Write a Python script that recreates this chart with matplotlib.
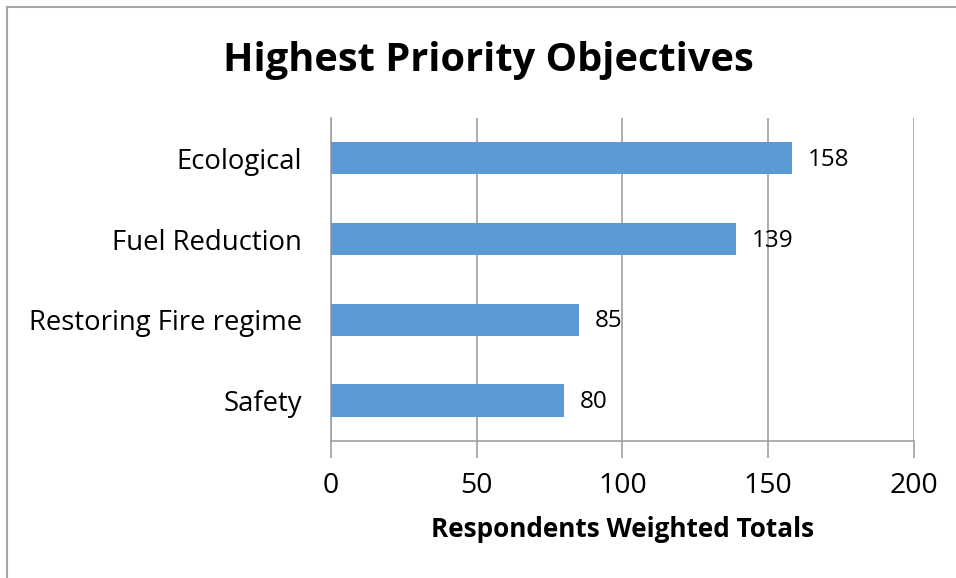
import numpy as np
import matplotlib.pyplot as plt
from matplotlib.lines import Line2D

plt.rcParams['font.family'] = ['Open Sans', 'DejaVu Sans']

categories = ["Ecological", "Fuel Reduction", "Restoring Fire regime", "Safety"]
totals = [158, 139, 85, 80]
x_ticks = [0, 50, 100, 150, 200]

grid_col = "#a0a0a0"
bar_col = "#5b9bd5"

fig = plt.figure(figsize=(9.56, 5.78), dpi=100)
ax = fig.add_axes([0.3462, 0.237, 0.6099, 0.559])

y = np.arange(len(categories))
ax.barh(y, totals, height=0.4, color=bar_col, zorder=3)
ax.set_ylim(len(categories) - 0.5, -0.5)
ax.set_yticks(y)
ax.set_yticklabels(categories, fontsize=19.8)
ax.tick_params(axis="y", length=0, pad=21)

ax.set_xlim(0, 200)
ax.set_xticks(x_ticks)
ax.set_xticklabels([str(t) for t in x_ticks], fontsize=20.5)
ax.tick_params(axis="x", length=12, width=1.2, color=grid_col, pad=10)
ax.grid(axis="x", color=grid_col, linewidth=1.2, zorder=0)

for s in ["top", "right"]:
    ax.spines[s].set_visible(False)
ax.spines["left"].set_color(grid_col)
ax.spines["left"].set_linewidth(1.2)
ax.spines["bottom"].set_color(grid_col)
ax.spines["bottom"].set_linewidth(1.2)

for yi, v in zip(y, totals):
    ax.text(v + 5.5, yi + 0.02, str(v), va="center", ha="left", fontsize=17.5)

ax.set_xlabel("Respondents Weighted Totals", fontsize=18.8, fontweight="bold", labelpad=12)
fig.text(0.511, 0.896, "Highest Priority Objectives", ha="center", va="center",
         fontsize=28.6, fontweight="bold")

# outer chart frame
fig.add_artist(Line2D([0.0073, 0.0073], [0.0, 0.988], transform=fig.transFigure,
                      color="#a6a6a6", linewidth=1.5))
fig.add_artist(Line2D([0.0073, 1.0], [0.988, 0.988], transform=fig.transFigure,
                      color="#a6a6a6", linewidth=1.5))

fig.savefig("out.png", dpi=100)
